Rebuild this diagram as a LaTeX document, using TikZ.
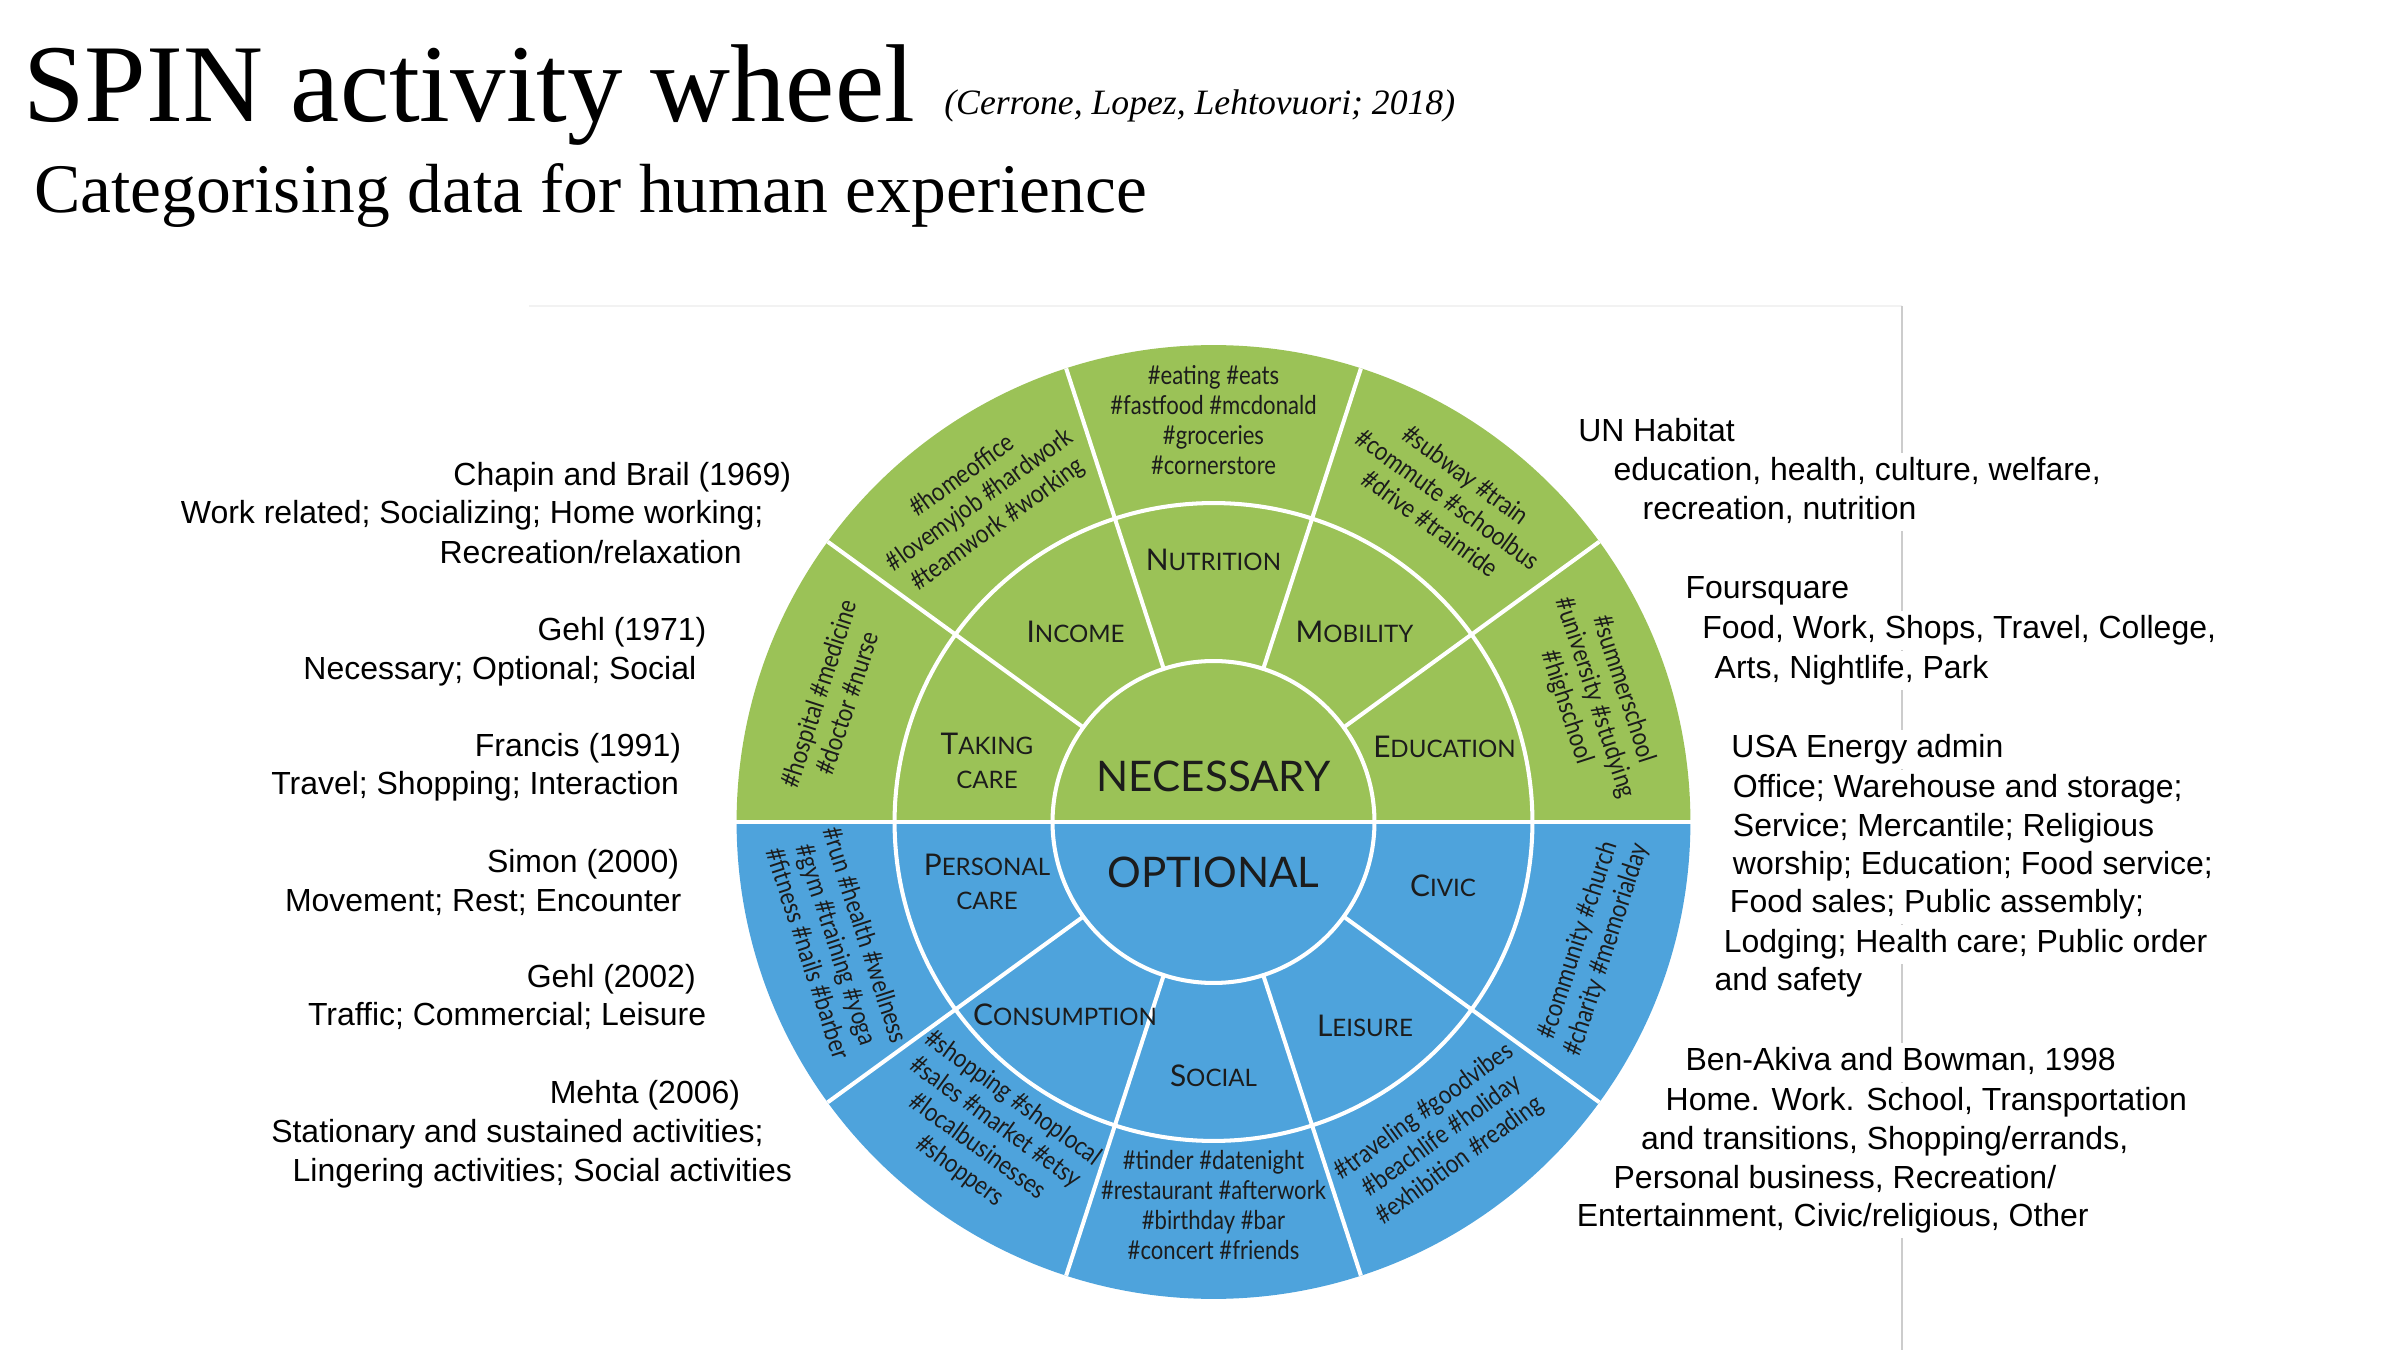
\documentclass[tikz,border=0pt]{standalone}
\usepackage{fontspec}
\usepackage{graphicx}
\setmainfont{Liberation Sans}
\newfontfamily\titlefont{Liberation Serif}
\newfontfamily\wheelfont{Lato}
\definecolor{wgreen}{RGB}{155,194,87}
\definecolor{wblue}{RGB}{78,163,220}
\definecolor{ink}{RGB}{28,28,28}
\newcommand\SCx[2]{{\fontsize{17}{20}\selectfont #1}{\fontsize{13.7}{16}\selectfont #2}}
\newcommand\SCs[1]{{\fontsize{13.7}{16}\selectfont #1}}
\newcommand\htags[1]{\scalebox{0.85}[1]{\fontsize{14.8}{17.1}\selectfont\begin{tabular}{@{}c@{}}#1\end{tabular}}}
\tikzset{
  wline/.style={white, line width=2.3pt},
  wlab/.style={font=\wheelfont\fontsize{15}{19}\selectfont, text=ink, align=center, inner sep=0pt},
  wbig/.style={font=\wheelfont\fontsize{24}{28}\selectfont, text=ink, inner sep=0pt},
  htag/.style={font=\wheelfont, text=ink, inner sep=0pt},
  lbody/.style={anchor=base west, inner sep=0pt, font=\fontsize{18.2}{21}\selectfont, text=black},
  rbody/.style={lbody, fill=white, text height=14pt, text depth=5pt, inner ysep=1.6pt},
  ttl/.style={anchor=base west, inner sep=0pt, text=black}
}
\begin{document}
\begin{tikzpicture}[x=0.02cm,y=0.02cm]
\useasboundingbox[fill=white] (0,0) rectangle (2400,1350);
% faint frame lines of the original slide
\coordinate (fa) at (529,1044);
\coordinate (fb) at (1902,1044);
\coordinate (fc) at (1902,0);
\draw[gray!10, line width=0.8pt] (fa) -- (fb);
\draw[gray!40, line width=0.8pt] (fb) -- (fc);

% titles
\node[ttl, font=\titlefont\fontsize{63}{70}\selectfont] (title) at (23,1228) {SPIN activity wheel};
\node[ttl, font=\titlefont\itshape\fontsize{20.3}{24}\selectfont] (cite) at (944,1235) {(Cerrone, Lopez, Lehtovuori; 2018)};
\node[ttl, font=\titlefont\fontsize{39.6}{44}\selectfont] (sub) at (34,1137) {Categorising data for human experience};

% wheel
\begin{scope}[shift={(1213.5,528)}]
\coordinate (C) at (0,0);
\fill[wgreen] (0:9.54cm) arc[start angle=0,end angle=180,radius=9.54cm] -- cycle;
\fill[wblue] (180:9.54cm) arc[start angle=180,end angle=360,radius=9.54cm] -- cycle;
\foreach \a in {36,72,108,144,216,252,288,324} \draw[wline] (\a:3.22cm) -- (\a:9.54cm);
\draw[white, line width=2.8pt] (180:9.6cm) -- (0:9.6cm);
\draw[wline] (C) circle[radius=6.38cm];
\draw[wline] (C) circle[radius=3.22cm];

\node[wbig] (nec) at (0,46) {NECESSARY};
\node[wbig] (opt) at (0,-50) {OPTIONAL};
\node[wlab] (nut) at (0,262) {\SCx{N}{UTRITION}};
\node[wlab] (inc) at (-138,190) {\SCx{I}{NCOME}};
\node[wlab] (mob) at (141,190) {\SCx{M}{OBILITY}};
\node[wlab] (tak) at (-226.5,61) {\SCx{T}{AKING}\\\SCs{CARE}};
\node[wlab] (edu) at (231,75) {\SCx{E}{DUCATION}};
\node[wlab] (per) at (-226.5,-60) {\SCx{P}{ERSONAL}\\\SCs{CARE}};
\node[wlab] (civ) at (229.6,-64) {\SCx{C}{IVIC}};
\node[wlab] (con) at (-148.5,-193) {\SCx{C}{ONSUMPTION}};
\node[wlab] (soc) at (0,-254) {\SCx{S}{OCIAL}};
\node[wlab] (lei) at (151.5,-203.6) {\SCx{L}{EISURE}};

\node[htag] (h1) at (0,398.7) {\htags{\#eating \#eats\\\#fastfood \#mcdonald\\\#groceries\\\#cornerstore}};
\node[htag, rotate=36] (h2) at (126:7.92cm) {\htags{\#homeoffice\\\#lovemyjob \#hardwork\\\#teamwork \#working}};
\node[htag, rotate=-36] (h3) at (54:7.92cm) {\htags{\#subway \#train\\\#commute \#schoolbus\\\#drive \#trainride}};
\node[htag, rotate=72] (h4) at (162:7.94cm) {\htags{\#hospital \#medicine\\\#doctor \#nurse}};
\node[htag, rotate=-72] (h5) at (18:8.0cm) {\htags{\#summerschool\\\#university \#studying\\\#highschool}};
\node[htag, rotate=-72] (h6) at (198:7.98cm) {\htags{\#run \#health \#wellness\\\#gym \#training \#yoga\\\#fitness \#nails \#barber}};
\node[htag, rotate=-36] (h7) at (234:7.76cm) {\htags{\#shopping \#shoplocal\\\#sales \#market \#etsy\\\#localbusinesses\\\#shoppers}};
\node[htag] (h8) at (0,-386.5) {\htags{\#tinder \#datenight\\\#restaurant \#afterwork\\\#birthday \#bar\\\#concert \#friends}};
\node[htag, rotate=36] (h9) at (306:7.8cm) {\htags{\#traveling \#goodvibes\\\#beachlife \#holiday\\\#exhibition \#reading}};
\node[htag, rotate=72] (h10) at (342:8.0cm) {\htags{\#community \#church\\\#charity \#memorialday}};
\end{scope}

% left column
\node[lbody] (l1) at (453.1,864.5) {Chapin and Brail (1969)};
\node[lbody] (l2) at (180.6,826.2) {Work related; Socializing; Home working;};
\node[lbody] (l3) at (439.3,786.5) {Recreation/relaxation};
\node[lbody] (l4) at (537.2,709.9) {Gehl (1971)};
\node[lbody] (l5) at (303.1,670.1) {Necessary; Optional; Social};
\node[lbody] (l6) at (474.5,593.6) {Francis (1991)};
\node[lbody] (l7) at (270.9,555.3) {Travel; Shopping; Interaction};
\node[lbody] (l8) at (486.7,477.3) {Simon (2000)};
\node[lbody] (l9) at (284.7,439) {Movement; Rest; Encounter};
\node[lbody] (l10) at (526.5,362.5) {Gehl (2002)};
\node[lbody] (l11) at (307.7,324.2) {Traffic; Commercial; Leisure};
\node[lbody] (l12) at (549.5,246.2) {Mehta (2006)};
\node[lbody] (l13) at (270.9,207.9) {Stationary and sustained activities;};
\node[lbody] (l14) at (292.3,168.1) {Lingering activities; Social activities};

% right column
\node[rbody] (r1) at (1578.0,908.9) {UN Habitat};
\node[rbody] (r2) at (1613.3,869.1) {education, health, culture, welfare,};
\node[rbody] (r3) at (1642.3,830.8) {recreation, nutrition};
\node[rbody] (r4) at (1685.2,751.2) {Foursquare};
\node[rbody] (r5) at (1702.0,711.5) {Food, Work, Shops, Travel, College,};
\node[rbody] (r6) at (1714.3,671.7) {Arts, Nightlife, Park};
\node[rbody] (r7) at (1731.1,592.1) {USA Energy admin};
\node[rbody] (r8) at (1732.6,552.3) {Office; Warehouse and storage;};
\node[rbody] (r9) at (1732.6,514) {Service; Mercantile; Religious};
\node[rbody] (r10) at (1732.6,475.7) {worship; Education; Food service;};
\node[rbody] (r11) at (1729.6,437.5) {Food sales; Public assembly;};
\node[rbody] (r12) at (1723.5,397.7) {Lodging; Health care; Public order};
\node[rbody] (r13) at (1714.3,359.4) {and safety};
\node[rbody] (r14) at (1685.2,279.8) {Ben-Akiva and Bowman, 1998};
\node[rbody] (r15) at (1665.3,240) {Home. Work. School, Transportation};
\node[rbody] (r16) at (1640.8,200.2) {and transitions, Shopping/errands,};
\node[rbody] (r17) at (1613.3,162) {Personal business, Recreation/};
\node[rbody] (r18) at (1576.5,123.7) {Entertainment, Civic/religious, Other};
\end{tikzpicture}
\end{document}
